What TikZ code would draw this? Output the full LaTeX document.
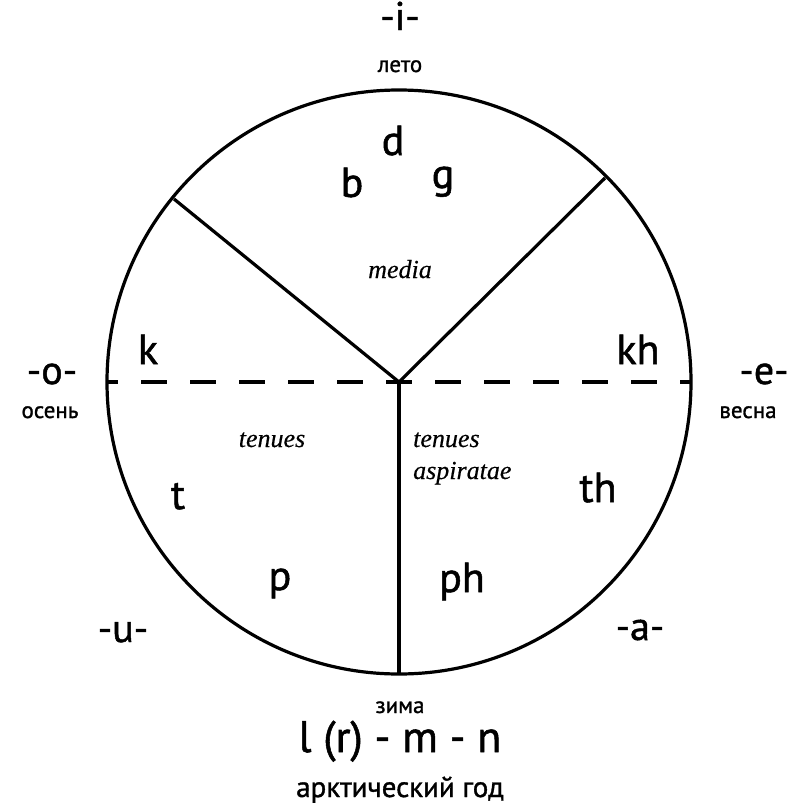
\documentclass[tikz,border=0pt]{standalone}
\usepackage{fontspec}
\setmainfont{PT Sans}[FakeBold=1.2]
\newfontfamily\latinserif{Liberation Serif}[FakeBold=0.4]
\usetikzlibrary{positioning}

\begin{document}
\begin{tikzpicture}[
        x=1pt, y=-1pt,
        rim/.style={line width=3.2pt},
        sound/.style={anchor=base, font=\fontsize{42}{46}\selectfont},
        vowel/.style={anchor=base, font=\fontsize{40}{44}\selectfont},
        season/.style={anchor=base, font=\fontsize{23}{26}\selectfont},
        group/.style={anchor=base, font=\latinserif\itshape\fontsize{26}{32}\selectfont, inner sep=0pt}
    ]
        \useasboundingbox (0,0) rectangle (809,806);

        % the year circle
        \coordinate (centre) at (399,382);
        \coordinate (rim_nw) at (174,199);
        \coordinate (rim_ne) at (605,178);
        \coordinate (rim_s) at (399,674);
        \coordinate (rim_w) at (107,382);
        \coordinate (rim_e) at (691,382);

        \draw[rim] (centre) circle[radius=292pt];
        \draw[rim] (rim_nw) -- (centre) -- (rim_ne);
        \draw[rim] (centre) -- (rim_s);
        \draw[rim, dash pattern=on 26pt off 23pt, dash phase=15pt] (rim_w) -- (rim_e);

        % consonants
        \node[sound] (snd_d) at (393,155) {d};
        \node[sound] (snd_b) at (352,197) {b};
        \node[sound] (snd_g) at (443,188) {g};
        \node[sound] (snd_k) at (148,364) {k};
        \node[sound] (snd_kh) at (638,364) {kh};
        \node[sound] (snd_t) at (178,509) {t};
        \node[sound] (snd_th) at (598,502) {th};
        \node[sound] (snd_p) at (280,590) {p};
        \node[sound] (snd_ph) at (462,592) {ph};

        \node[group] (grp_media) at (400,278) {media};
        \node[group] (grp_tenues) at (272,447) {tenues};
        \node[group, anchor=base west, align=left] (grp_asp) at (413,479) {tenues\\aspiratae};

        % vowels and seasons
        \node[vowel] (vow_i) at (400,30) {-i-};
        \node[season] (sea_summer) at (400,72) {лето};
        \node[vowel] (vow_o) at (52,384) {-o-};
        \node[season] (sea_autumn) at (50,418) {осень};
        \node[vowel] (vow_e) at (764,384) {-e-};
        \node[season] (sea_spring) at (748,418) {весна};
        \node[vowel] (vow_u) at (123,642) {-u-};
        \node[vowel] (vow_a) at (640,640) {-a-};

        \node[season] (sea_winter) at (400,713) {зима};
        \node[anchor=base, font=\fontsize{44}{48}\selectfont] (sonants) at (400,752) {l (r) - m - n};
        \node[anchor=base, font=\fontsize{29}{32}\selectfont] (arctic) at (400,797) {арктический год};

    \end{tikzpicture}
\end{document}
